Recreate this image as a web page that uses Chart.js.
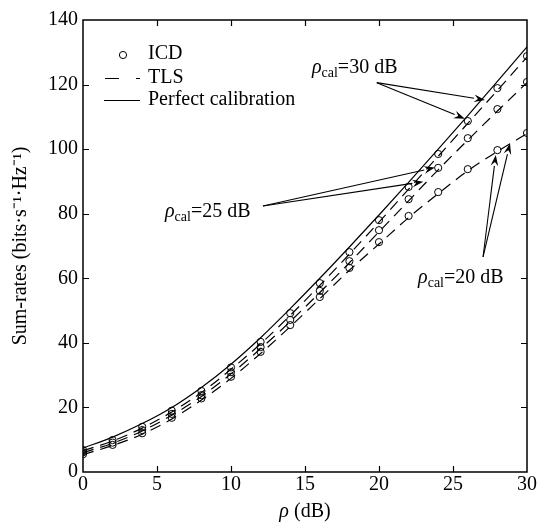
<!DOCTYPE html>
<html><head><meta charset="utf-8">
<script src="https://cdn.jsdelivr.net/npm/chart.js@4/dist/chart.umd.min.js"></script>
<style>html,body{margin:0;padding:0;background:#fff}#wrap{width:540px;height:532px}</style>
</head><body><div id="wrap"><canvas id="c" width="540" height="532"></canvas></div>
<script>
// ---- data ----
const snr = [0, 2, 4, 6, 8, 10, 12, 14, 16, 18, 20, 22, 24, 26, 28, 30];
const perfect = [7.4, 10.8, 15.0, 20.0, 26.2, 33.4, 41.6, 50.6, 60.0, 69.7, 79.6, 89.7, 100.0, 110.4, 121.0, 131.7];
const icd30 = [6.8, 9.9, 14.0, 19.0, 25.1, 32.4, 40.3, 49.2, 58.5, 68.1, 78.0, 88.3, 98.5, 108.7, 118.9, 128.8];
const icd25 = [6.1, 9.1, 13.0, 18.0, 23.8, 30.9, 38.7, 47.1, 56.1, 65.3, 74.9, 84.5, 94.2, 103.4, 112.4, 120.8];
const icd20 = [5.5, 8.4, 12.0, 16.8, 22.8, 29.5, 37.2, 45.5, 54.2, 63.2, 71.2, 79.3, 86.7, 93.8, 99.7, 105.0];
const tls30 = [6.6, 9.6, 13.6, 18.6, 24.6, 31.8, 39.7, 48.5, 57.8, 67.5, 77.4, 87.6, 97.8, 108.0, 118.2, 128.5];
const tls25 = [6.0, 8.9, 12.7, 17.6, 23.4, 30.4, 38.2, 46.6, 55.6, 64.8, 74.4, 84.0, 93.6, 102.8, 111.8, 120.6];
const tls20 = [5.4, 8.2, 11.7, 16.4, 22.3, 29.0, 36.7, 45.0, 53.7, 62.5, 70.6, 78.8, 86.2, 93.3, 99.3, 104.8];
const xTicks = [0, 5, 10, 15, 20, 25, 30];
const yTicks = [0, 20, 40, 60, 80, 100, 120, 140];
const legendLabels = ['ICD', 'TLS', 'Perfect calibration'];
const xTitleSymbol = 'ρ';
const xTitleRest = ' (dB)';
const yTitle = 'Sum-rates (bits·s⁻¹·Hz⁻¹)';
// annotations: label anchor (data units) and arrow start/tips (data units)
const annotations = [
  {val: '30', text: [15.47, 125.6], start: [19.85, 120.6], tips: [[27.16, 115.2], [25.8, 109.4]]},
  {val: '25', text: [5.54, 81.1], start: [12.16, 82.4], tips: [[23.78, 94.3], [22.99, 89.9]]},
  {val: '20', text: [22.64, 60.6], start: [27.03, 66.6], tips: [[27.89, 98.2], [28.85, 101.8]]}
];

const FONT = "'Liberation Serif','Times New Roman',serif";
const pts = arr => snr.map((x, i) => ({x, y: arr[i]}));

const lineDs = (arr, dash) => ({data: pts(arr), borderColor: '#000', borderWidth: 1.2, borderDash: dash,
  pointRadius: 0, fill: false, tension: 0.25, cubicInterpolationMode: 'monotone'});
const icdDs = arr => ({data: pts(arr), showLine: false, pointStyle: 'circle', pointRadius: 3.6,
  pointBorderWidth: 1, pointBorderColor: '#000', pointBackgroundColor: 'rgba(0,0,0,0)'});

const deco = {
  id: 'deco',
  afterDatasetsDraw(chart) {
    const ctx = chart.ctx, a = chart.chartArea, xs = chart.scales.x, ys = chart.scales.y;
    ctx.save();
    // frame
    ctx.strokeStyle = '#000'; ctx.lineWidth = 1.5;
    ctx.strokeRect(a.left, a.top, a.right - a.left, a.bottom - a.top);
    // inward ticks
    ctx.lineWidth = 1.2;
    ctx.beginPath();
    xTicks.slice(1, -1).forEach(v => {
      const p = Math.round(xs.getPixelForValue(v)) + 0.5;
      ctx.moveTo(p, a.bottom); ctx.lineTo(p, a.bottom - 6);
      ctx.moveTo(p, a.top); ctx.lineTo(p, a.top + 6);
    });
    yTicks.slice(1, -1).forEach(v => {
      const p = Math.round(ys.getPixelForValue(v)) + 0.5;
      ctx.moveTo(a.left, p); ctx.lineTo(a.left + 6, p);
      ctx.moveTo(a.right, p); ctx.lineTo(a.right - 6, p);
    });
    ctx.stroke();
    // x-axis title with italic rho
    ctx.fillStyle = '#000'; ctx.textBaseline = 'middle'; ctx.textAlign = 'left';
    ctx.font = 'italic 20px ' + FONT; const w1 = ctx.measureText(xTitleSymbol).width;
    ctx.font = '20px ' + FONT; const w2 = ctx.measureText(xTitleRest).width;
    let tx0 = (a.left + a.right) / 2 - (w1 + w2) / 2;
    ctx.font = 'italic 20px ' + FONT; ctx.fillText(xTitleSymbol, tx0, 512);
    ctx.font = '20px ' + FONT; ctx.fillText(xTitleRest, tx0 + w1, 512);
    // legend
    const lx = a.left, ly = a.top;
    ctx.font = '20px ' + FONT;
    ctx.lineWidth = 1;
    ctx.beginPath(); ctx.arc(lx + 40, ly + 35, 3.6, 0, Math.PI * 2); ctx.stroke();
    ctx.fillText(legendLabels[0], lx + 65, ly + 34);
    ctx.lineWidth = 1.2;
    ctx.beginPath(); ctx.moveTo(lx + 22, ly + 58.5); ctx.lineTo(lx + 36, ly + 58.5);
    ctx.moveTo(lx + 53, ly + 58.5); ctx.lineTo(lx + 57, ly + 58.5); ctx.stroke();
    ctx.fillText(legendLabels[1], lx + 65, ly + 58);
    ctx.beginPath(); ctx.moveTo(lx + 21, ly + 80.5); ctx.lineTo(lx + 57, ly + 80.5); ctx.stroke();
    ctx.fillText(legendLabels[2], lx + 65, ly + 80);
    // annotations
    annotations.forEach(an => {
      let x = xs.getPixelForValue(an.text[0]);
      const y = ys.getPixelForValue(an.text[1]) + 7;
      ctx.textBaseline = 'alphabetic';
      ctx.font = 'italic 20px ' + FONT; ctx.fillText('ρ', x, y); x += ctx.measureText('ρ').width;
      ctx.font = '14px ' + FONT; ctx.fillText('cal', x, y + 4); x += ctx.measureText('cal').width;
      ctx.font = '20px ' + FONT; ctx.fillText('=' + an.val + ' dB', x, y);
      const sx = xs.getPixelForValue(an.start[0]), sy = ys.getPixelForValue(an.start[1]);
      an.tips.forEach(t => {
        const tx = xs.getPixelForValue(t[0]), ty = ys.getPixelForValue(t[1]);
        const ang = Math.atan2(ty - sy, tx - sx), L = 11, W = 3.8;
        const bx = tx - L * Math.cos(ang), by = ty - L * Math.sin(ang);
        ctx.lineWidth = 1.1;
        ctx.beginPath(); ctx.moveTo(sx, sy); ctx.lineTo(bx, by); ctx.stroke();
        ctx.beginPath(); ctx.moveTo(tx, ty);
        ctx.lineTo(bx + W * Math.sin(ang), by - W * Math.cos(ang));
        ctx.lineTo(bx + 0.35 * L * Math.cos(ang), by + 0.35 * L * Math.sin(ang));
        ctx.lineTo(bx - W * Math.sin(ang), by + W * Math.cos(ang));
        ctx.closePath(); ctx.fill();
      });
    });
    ctx.restore();
  }
};

new Chart(document.getElementById('c'), {
  type: 'line',
  data: {datasets: [
    lineDs(perfect, []),
    lineDs(tls30, [11, 7]), lineDs(tls25, [11, 7]), lineDs(tls20, [11, 7]),
    icdDs(icd30), icdDs(icd25), icdDs(icd20)
  ]},
  options: {
    responsive: false, animation: false, devicePixelRatio: 1,
    layout: {padding: {left: 0, right: 13, top: 20, bottom: 0}},
    plugins: {legend: {display: false}, tooltip: {enabled: false}},
    scales: {
      x: {type: 'linear', min: 0, max: 30,
        afterFit: s => { s.height = 60; },
        afterBuildTicks: s => { s.ticks = xTicks.map(v => ({value: v})); },
        grid: {display: false, drawTicks: false}, border: {display: false},
        ticks: {color: '#000', font: {family: FONT, size: 20}, padding: 1, maxRotation: 0},
        title: {display: false}
      },
      y: {type: 'linear', min: 0, max: 140,
        afterFit: s => { s.width = 83; },
        afterBuildTicks: s => { s.ticks = yTicks.map(v => ({value: v})); },
        grid: {display: false, drawTicks: false}, border: {display: false},
        ticks: {color: '#000', font: {family: FONT, size: 20}, padding: 5},
        title: {display: true, text: yTitle, color: '#000', font: {family: FONT, size: 20}, padding: {top: 9, bottom: 0}}
      }
    }
  },
  plugins: [deco]
});
</script></body></html>
